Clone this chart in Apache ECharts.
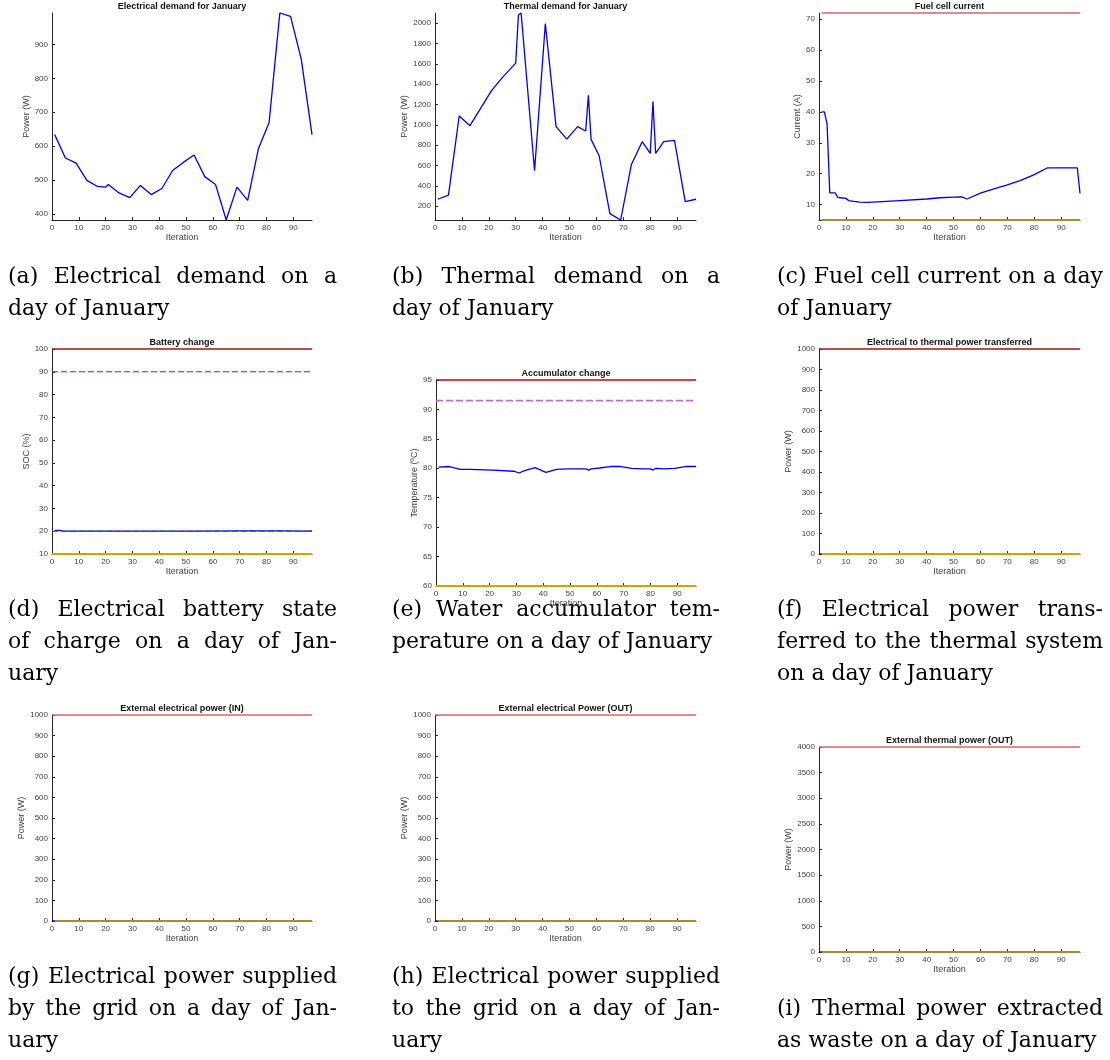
<!DOCTYPE html>
<html>
<head>
<meta charset="utf-8">
<script src="https://cdn.jsdelivr.net/npm/echarts@6/dist/echarts.min.js"></script>
<style>
  html, body { margin: 0; padding: 0; background: #fff; }
  #main { width: 1110px; height: 1060px; }
</style>
</head>
<body>
<div id="main"></div>
<script>
// ---------- simulation results for one January day (97 iterations) ----------
const iterTicks = [0, 10, 20, 30, 40, 50, 60, 70, 80, 90];
const ITER_MAX = 97;

// (a) electrical demand (W)
const elecIter   = [1, 5, 9, 13, 17, 20, 21, 25, 29, 33, 37, 41, 45, 49, 53, 57, 61, 65, 69, 73, 77, 81, 85, 89, 93, 97];
const elecDemand = [634, 565, 550, 499, 481, 479, 487, 462, 448, 484, 457, 475, 528, 552, 574, 510, 487, 382, 479, 440, 592, 670, 993, 983, 856, 634];
const elecTicks  = [400, 500, 600, 700, 800, 900];

// (b) thermal demand (W)
const thermIter   = [1, 5, 9, 13, 21, 25, 30, 31, 32, 37, 41, 45, 49, 53, 56, 57, 58, 61, 65, 69, 73, 77, 80, 81, 82, 85, 89, 93, 97];
const thermDemand = [269, 309, 1088, 993, 1338, 1465, 1608, 2082, 2101, 549, 1996, 983, 861, 983, 940, 1292, 858, 697, 128, 65, 611, 835, 720, 1230, 720, 835, 848, 246, 269];
const thermTicks  = [200, 400, 600, 800, 1000, 1200, 1400, 1600, 1800, 2000];

// (c) fuel cell current (A) and its limits
const fcIter    = [1, 2, 3, 4, 6, 7, 8, 10, 11, 13, 15, 18, 20, 30, 40, 45, 50, 53, 55, 60, 65, 70, 75, 80, 85, 90, 96, 97];
const fcCurrent = [40, 40, 36.1, 13.8, 13.8, 12.3, 12.2, 12.0, 11.3, 11.0, 10.8, 10.7, 10.8, 11.3, 11.8, 12.2, 12.4, 12.5, 11.8, 13.7, 15.1, 16.4, 17.8, 19.7, 21.9, 21.9, 21.9, 13.6];
const FC_MAX = 72, FC_MIN = 5;
const fcTicks = [10, 20, 30, 40, 50, 60, 70];

// (d) battery state of charge (%) and its limits
const socIter   = [1, 3, 4, 20, 40, 55, 70, 85, 95, 97];
const socValues = [20.4, 20.4, 20.0, 20.0, 20.0, 20.05, 20.15, 20.15, 20.05, 20.1];
const SOC_MAX = 100, SOC_HIGH = 90, SOC_REF = 20, SOC_MIN = 10;
const socTicks = [10, 20, 30, 40, 50, 60, 70, 80, 90, 100];

// (e) water accumulator temperature (ºC) and its limits
const accIter = [1, 5, 9, 13, 21, 29, 31, 33, 37, 41, 45, 49, 53, 56, 57, 58, 61, 65, 69, 73, 77, 80, 81, 82, 85, 89, 93, 97];
const accTemp = [80.2, 80.3, 79.8, 79.8, 79.7, 79.5, 79.2, 79.6, 80.1, 79.3, 79.8, 79.9, 79.9, 79.9, 79.7, 79.9, 80.05, 80.3, 80.3, 80.0, 79.9, 79.9, 79.7, 80.0, 79.9, 80.0, 80.3, 80.3];
const ACC_MAX = 95, ACC_HIGH = 91.5, ACC_MIN = 60;
const accTicks = [60, 65, 70, 75, 80, 85, 90, 95];

// (f) electrical power transferred to the thermal system (W)
const transferIter  = [0, 97];
const transferPower = [0, 0];
const TRANSFER_MAX = 1000, TRANSFER_MIN = 0;

// (g) electrical power from the grid (W)
const gridInIter  = [0, 97];
const gridInPower = [0, 0];
const GRID_IN_MAX = 1000, GRID_IN_MIN = 0;

// (h) electrical power to the grid (W)
const gridOutIter  = [0, 97];
const gridOutPower = [0, 0];
const GRID_OUT_MAX = 1000, GRID_OUT_MIN = 0;

// (i) thermal power extracted as waste (W)
const wasteIter  = [0, 97];
const wastePower = [0, 0];
const WASTE_MAX = 4000, WASTE_MIN = 0;

const powerTicks = [0, 100, 200, 300, 400, 500, 600, 700, 800, 900, 1000];
const wasteTicks = [0, 500, 1000, 1500, 2000, 2500, 3000, 3500, 4000];

// ---------- styling ----------
const BLUE = '#0000ee';
const DARK_RED = '#b00c0c', SOFT_RED = '#cc6a6a';
const GOLD = '#d9a100', OLIVE = '#a88a3a';
const AXIS = '#262626', LABEL = '#404040';
const SANS = '"Liberation Sans", Arial, Helvetica, sans-serif';
const SERIF = '"DejaVu Serif", serif';

const zip = (xs, ys) => xs.map((x, i) => [x, ys[i]]);
const hline = (span, v) => span.map(x => [x, v]);

// plot-area boxes: [left, top, right, bottom] in px, plus y-name gap
const panels = [
  { title: 'Electrical demand for January', yName: 'Power (W)', box: [52, 13, 312, 220], gap: 20,
    yTicks: elecTicks, yMin: Math.min(...elecDemand), yMax: Math.max(...elecDemand),
    lines: [{ data: zip(elecIter, elecDemand), color: BLUE, width: 1.3 }] },
  { title: 'Thermal demand for January', yName: 'Power (W)', box: [435, 13, 696, 220], gap: 25,
    yTicks: thermTicks, yMin: Math.min(...thermDemand), yMax: Math.max(...thermDemand),
    lines: [{ data: zip(thermIter, thermDemand), color: BLUE, width: 1.3 }] },
  { title: 'Fuel cell current', yName: 'Current (A)', box: [819, 13, 1080, 220], gap: 16,
    yTicks: fcTicks, yMin: FC_MIN, yMax: FC_MAX,
    lines: [
      { data: zip(fcIter, fcCurrent), color: BLUE, width: 1.3 },
      { data: hline([1, ITER_MAX], FC_MAX), color: SOFT_RED, width: 1.6 },
      { data: hline([1, ITER_MAX], FC_MIN), color: OLIVE, width: 2 }
    ] },
  { title: 'Battery change', yName: 'SOC (%)', box: [52, 349, 312, 554], gap: 18,
    yTicks: socTicks, yMin: SOC_MIN, yMax: SOC_MAX,
    lines: [
      { data: zip(socIter, socValues), color: BLUE, width: 1.3 },
      { data: hline([0, ITER_MAX], SOC_REF), color: '#127a12', width: 1.1, dash: [6, 3] },
      { data: hline([0, ITER_MAX], SOC_HIGH), color: '#7a2080', width: 1.1, dash: [6, 3] },
      { data: hline([0, ITER_MAX], SOC_MAX), color: DARK_RED, width: 1.4 },
      { data: hline([0, ITER_MAX], SOC_MIN), color: GOLD, width: 1.8 }
    ] },
  { title: 'Accumulator change', yName: 'Temperature (ºC)', box: [436, 380, 696, 586], gap: 15,
    yTicks: accTicks, yMin: ACC_MIN, yMax: ACC_MAX,
    lines: [
      { data: zip(accIter, accTemp), color: BLUE, width: 1.3 },
      { data: hline([0, ITER_MAX], ACC_HIGH), color: '#bb72cc', width: 1.6, dash: [7, 3] },
      { data: hline([0, ITER_MAX], ACC_MAX), color: DARK_RED, width: 1.4 },
      { data: hline([0, ITER_MAX], ACC_MIN), color: GOLD, width: 1.8 }
    ] },
  { title: 'Electrical to thermal power transferred', yName: 'Power (W)', box: [819, 349, 1080, 554], gap: 24,
    yTicks: powerTicks, yMin: TRANSFER_MIN, yMax: TRANSFER_MAX,
    lines: [
      { data: zip(transferIter, transferPower), color: BLUE, width: 1.3 },
      { data: hline([0, ITER_MAX], TRANSFER_MAX), color: DARK_RED, width: 1.4 },
      { data: hline([1, ITER_MAX], TRANSFER_MIN), color: GOLD, width: 1.8 }
    ] },
  { title: 'External electrical power (IN)', yName: 'Power (W)', box: [52, 715, 312, 921], gap: 25,
    yTicks: powerTicks, yMin: GRID_IN_MIN, yMax: GRID_IN_MAX,
    lines: [
      { data: zip(gridInIter, gridInPower), color: BLUE, width: 1.3 },
      { data: hline([0, ITER_MAX], GRID_IN_MAX), color: SOFT_RED, width: 1.6 },
      { data: hline([1, ITER_MAX], GRID_IN_MIN), color: OLIVE, width: 2 }
    ] },
  { title: 'External electrical Power (OUT)', yName: 'Power (W)', box: [435, 715, 696, 921], gap: 25,
    yTicks: powerTicks, yMin: GRID_OUT_MIN, yMax: GRID_OUT_MAX,
    lines: [
      { data: zip(gridOutIter, gridOutPower), color: BLUE, width: 1.3 },
      { data: hline([0, ITER_MAX], GRID_OUT_MAX), color: SOFT_RED, width: 1.6 },
      { data: hline([1, ITER_MAX], GRID_OUT_MIN), color: OLIVE, width: 2 }
    ] },
  { title: 'External thermal power (OUT)', yName: 'Power (W)', box: [819, 747, 1080, 952], gap: 24,
    yTicks: wasteTicks, yMin: WASTE_MIN, yMax: WASTE_MAX,
    lines: [
      { data: zip(wasteIter, wastePower), color: BLUE, width: 1.3 },
      { data: hline([0, ITER_MAX], WASTE_MAX), color: SOFT_RED, width: 1.6 },
      { data: hline([1, ITER_MAX], WASTE_MIN), color: OLIVE, width: 2 }
    ] }
];

// sub-figure captions, one entry per panel, laid out in three columns
const captions = [
  ['(a) Electrical demand on a', 'day of January'],
  ['(b) Thermal demand on a', 'day of January'],
  ['(c) Fuel cell current on a day', 'of January'],
  ['(d) Electrical battery state', 'of charge on a day of Jan-', 'uary'],
  ['(e) Water accumulator tem-', 'perature on a day of January'],
  ['(f) Electrical power trans-', 'ferred to the thermal system', 'on a day of January'],
  ['(g) Electrical power supplied', 'by the grid on a day of Jan-', 'uary'],
  ['(h) Electrical power supplied', 'to the grid on a day of Jan-', 'uary'],
  ['(i) Thermal power extracted', 'as waste on a day of January']
];
const captionCols = [[8, 337], [392, 720], [777, 1103]];
const captionTop = [277, 277, 277, 610, 610, 610, 977, 977, 1009];
const CAPTION_SIZE = 22, CAPTION_LEADING = 32;

const plainNumber = v => String(v);

// ---------- build option ----------
const grid = [], xAxis = [], yAxis = [], series = [], graphic = [];

panels.forEach((p, i) => {
  const [l, t, r, b] = p.box;
  grid.push({ left: l, top: t, width: r - l, height: b - t, containLabel: false, outerBoundsMode: 'none' });

  xAxis.push({
    gridIndex: i, type: 'value', min: 0, max: ITER_MAX,
    name: 'Iteration', nameLocation: 'middle', nameGap: 13,
    nameTextStyle: { fontSize: 9, color: LABEL, fontFamily: SANS },
    axisLine: { show: true, onZero: false, lineStyle: { color: AXIS, width: 1 } },
    axisTick: { show: true, inside: true, length: 3, customValues: iterTicks, lineStyle: { color: AXIS } },
    axisLabel: { customValues: iterTicks, formatter: plainNumber, fontSize: 8, color: LABEL, fontFamily: SANS, margin: 4 },
    splitLine: { show: false }
  });

  yAxis.push({
    gridIndex: i, type: 'value', min: p.yMin, max: p.yMax,
    name: p.yName, nameLocation: 'middle', nameGap: p.gap, nameRotate: 90,
    nameTextStyle: { fontSize: 9, color: LABEL, fontFamily: SANS },
    axisLine: { show: true, onZero: false, lineStyle: { color: AXIS, width: 1 } },
    axisTick: { show: true, inside: true, length: 3, customValues: p.yTicks, lineStyle: { color: AXIS } },
    axisLabel: { customValues: p.yTicks, formatter: plainNumber, fontSize: 8, color: LABEL, fontFamily: SANS, margin: 4 },
    splitLine: { show: false }
  });

  p.lines.forEach(ln => {
    series.push({
      type: 'line', xAxisIndex: i, yAxisIndex: i, data: ln.data,
      showSymbol: false, clip: false, silent: true, animation: false,
      lineStyle: { color: ln.color, width: ln.width, type: ln.dash || 'solid' }
    });
  });

  graphic.push({
    type: 'text', x: (l + r) / 2, y: t - 6.5, silent: true,
    style: { text: p.title, fontSize: 9, fontWeight: 'bold', fontFamily: SANS, fill: '#111',
             align: 'center', verticalAlign: 'middle' }
  });
});

// justified caption lines (last line of each caption is set ragged-right)
const measureCtx = document.createElement('canvas').getContext('2d');
measureCtx.font = CAPTION_SIZE + 'px ' + SERIF;

captions.forEach((lines, i) => {
  const [x0, x1] = captionCols[i % 3];
  lines.forEach((line, k) => {
    const y = captionTop[i] + k * CAPTION_LEADING;
    const words = line.split(' ');
    const last = k === lines.length - 1;
    const widths = words.map(w => measureCtx.measureText(w).width);
    const space = measureCtx.measureText(' ').width;
    const total = widths.reduce((a, c) => a + c, 0);
    const gapW = (!last && words.length > 1) ? (x1 - x0 - total) / (words.length - 1) : space;
    let x = x0;
    words.forEach((w, j) => {
      graphic.push({
        type: 'text', x: x, y: y, silent: true,
        style: { text: w, fontSize: CAPTION_SIZE, fontFamily: SERIF, fill: '#000',
                 align: 'left', verticalAlign: 'middle' }
      });
      x += widths[j] + gapW;
    });
  });
});

const chart = echarts.init(document.getElementById('main'), null, { renderer: 'canvas', width: 1110, height: 1060 });
chart.setOption({
  animation: false,
  backgroundColor: '#ffffff',
  grid, xAxis, yAxis, series, graphic
});
</script>
</body>
</html>
